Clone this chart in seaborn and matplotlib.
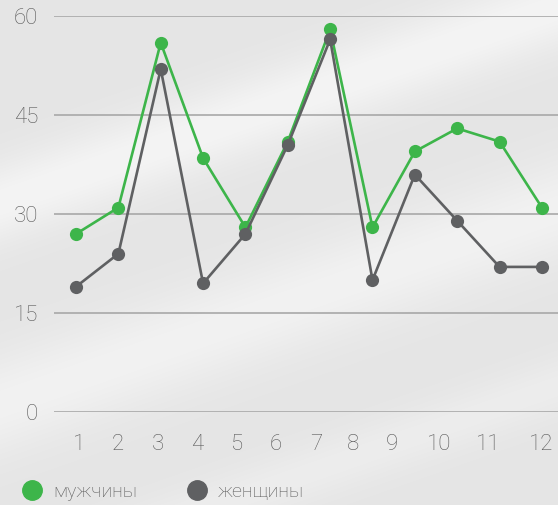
import numpy as np
import pandas as pd
import matplotlib.pyplot as plt
from matplotlib.lines import Line2D
import seaborn as sns

# Данные
месяцы = list(range(1, 13))
мужчины = [27, 31, 56, 38.5, 28, 41, 58, 28, 39.5, 43, 41, 31]
женщины = [19, 24, 52, 19.5, 27, 40.5, 56.5, 20, 36, 29, 22, 22]
подписи_x = ["1", "2", "3", "4", "5", "6", "7", "8", "9", "10", "11", "12"]
подписи_y = ["0", "15", "30", "45", "60"]

# позиции подписей по оси x (в исходнике они смещены относительно точек)
поз_x = [1.07, 1.99, 2.94, 3.86, 4.79, 5.72, 6.66, 7.54, 8.46, 9.57, 10.73, 11.99]

зелёный = "#3db54a"
серый = "#5f6062"
текст = "#585858"

df = pd.DataFrame({
    "месяц": месяцы * 2,
    "значение": мужчины + женщины,
    "пол": ["мужчины"] * 12 + ["женщины"] * 12,
})

sns.set_style("white")
plt.rcParams["font.family"] = ["Roboto", "DejaVu Sans"]

fig = plt.figure(figsize=(5.58, 5.05), dpi=100)

# фон: светло-серый с диагональными бликами
bg = fig.add_axes([0, 0, 1, 1])
yy, xx = np.mgrid[0:505, 0:558]
d = (yy + xx * 0.35) / 505.0
img = 0.895 + 0.06 * np.exp(-((d - 0.40) / 0.08) ** 2) + 0.05 * np.exp(-((d - 0.80) / 0.10) ** 2)
img += 0.03 * np.exp(-((d - 1.15) / 0.06) ** 2)
bg.imshow(np.clip(img, 0, 1), cmap="gray", vmin=0, vmax=1, aspect="auto")
bg.axis("off")

ax = fig.add_axes([54 / 558, 93 / 505, 504 / 558, 395.7 / 505])
ax.patch.set_alpha(0)

sns.lineplot(data=df, x="месяц", y="значение", hue="пол",
             palette={"мужчины": зелёный, "женщины": серый},
             hue_order=["мужчины", "женщины"],
             marker="o", markersize=9.5, markeredgewidth=0,
             linewidth=1.9, legend=False, ax=ax)

ax.set_xlim(0.48, 12.38)
ax.set_ylim(0, 60)
ax.set_yticks([0, 15, 30, 45, 60])
ax.set_yticklabels(подписи_y)
ax.set_xticks(поз_x)
ax.set_xticklabels(подписи_x)
ax.set_xlabel("")
ax.set_ylabel("")
ax.grid(axis="y", color="#a8a8a8", linewidth=1.2)
ax.set_axisbelow(True)
for s in ax.spines.values():
    s.set_visible(False)
ax.tick_params(axis="y", length=0, pad=11.5, labelsize=16, labelcolor=текст)
ax.tick_params(axis="x", length=0, pad=16, labelsize=16, labelcolor=текст)
for t in ax.get_xticklabels() + ax.get_yticklabels():
    t.set_fontweight("light")

# легенда
handles = [
    Line2D([], [], linestyle="none", marker="o", markersize=14, color=зелёный, label="мужчины"),
    Line2D([], [], linestyle="none", marker="o", markersize=14, color=серый, label="женщины"),
]
leg = fig.legend(handles=handles, loc="lower left", bbox_to_anchor=(0.005, -0.027), ncol=2,
                 frameon=False, fontsize=14, handletextpad=0.5, columnspacing=2.45,
                 handlelength=1.2)
for t in leg.get_texts():
    t.set_color(текст)
    t.set_fontweight("light")

fig.savefig("out.png", dpi=100)
